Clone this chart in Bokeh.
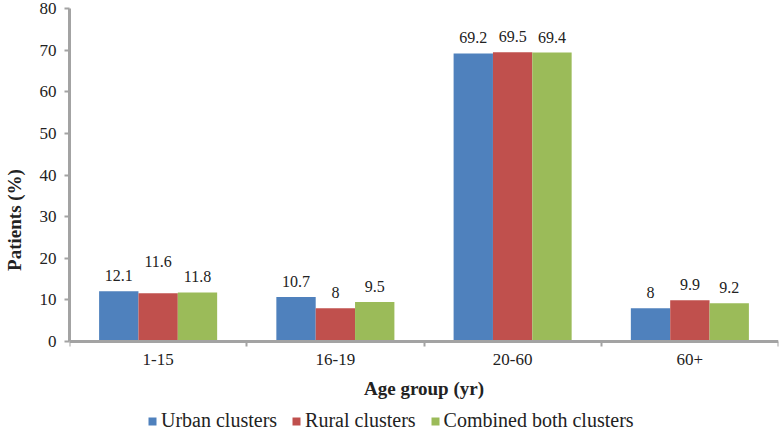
from bokeh.plotting import figure
from bokeh.models import (FactorRange, Range1d, LinearAxis, FixedTicker, ColumnDataSource,
                          LabelSet, Legend, LegendItem)
from bokeh.transform import dodge
from bokeh.embed import file_html
from bokeh.resources import INLINE

categories = ["1-15", "16-19", "20-60", "60+"]
urban = [12.1, 10.7, 69.2, 8]
rural = [11.6, 8, 69.5, 9.9]
combined = [11.8, 9.5, 69.4, 9.2]
series_names = ["Urban clusters", "Rural clusters", "Combined both clusters"]
y_ticks = [0, 10, 20, 30, 40, 50, 60, 70, 80]
y_max = 80

colors = ["#4F81BD", "#C0504D", "#9BBB59"]
offsets = [-0.222, 0.0, 0.222]
label_nudge = [[0, 0, 0, 0], [16, 0, 0, 0], [0, 0, 0, 0]]
FONT = "Liberation Serif"
AXIS_COLOR = "#a3a3a3"
TEXT_COLOR = "#222222"

# layout (pixels): plot top, zero line, figure bottom
TOP_PX, ZERO_PX, H = 8, 341, 431
px_per_unit = (ZERO_PX - TOP_PX) / y_max
y_start = -(H - ZERO_PX) / px_per_unit   # room below zero for axis texts and legend

p = figure(x_range=FactorRange(factors=categories, range_padding=0, factor_padding=0),
           y_range=Range1d(y_start, y_max), width=779, height=H,
           output_backend="svg", toolbar_location=None, x_axis_location=None,
           min_border_left=66, min_border_right=1, min_border_top=TOP_PX, min_border_bottom=0)
p.outline_line_color = None
for g in p.grid:
    g.visible = False

# y axis
ya = p.yaxis[0]
ya.bounds = (0, y_max)
ya.ticker = FixedTicker(ticks=y_ticks, minor_ticks=[])
ya.axis_line_color = AXIS_COLOR
ya.axis_line_width = 3
ya.major_tick_line_color = AXIS_COLOR
ya.major_tick_line_width = 2
ya.major_tick_out = 5
ya.major_tick_in = 0
ya.minor_tick_line_color = None
ya.major_label_text_font = FONT
ya.major_label_text_font_size = "17px"
ya.major_label_text_color = TEXT_COLOR
ya.major_label_standoff = 8
ya.axis_label = "Patients (%)"
ya.axis_label_text_font = FONT
ya.axis_label_text_font_style = "bold"
ya.axis_label_text_font_size = "19px"
ya.axis_label_text_color = TEXT_COLOR
ya.axis_label_standoff = 12

# x axis with boundary ticks, pinned at y = 0
xa = LinearAxis(
    fixed_location=0,
    ticker=FixedTicker(ticks=[i + 0.5 for i in range(len(categories))],
                       minor_ticks=[float(i) for i in range(len(categories) + 1)]),
    major_label_overrides={i + 0.5: c for i, c in enumerate(categories)})
xa.axis_line_color = AXIS_COLOR
xa.axis_line_width = 3
xa.major_tick_line_color = None
xa.major_tick_out = 0
xa.major_tick_in = 0
xa.minor_tick_line_color = AXIS_COLOR
xa.minor_tick_line_width = 2
xa.minor_tick_out = 5
xa.minor_tick_in = 0
xa.major_label_text_font = FONT
xa.major_label_text_font_size = "17px"
xa.major_label_text_color = TEXT_COLOR
xa.major_label_standoff = 7
xa.axis_label = "Age group (yr)"
xa.axis_label_text_font = FONT
xa.axis_label_text_font_style = "bold"
xa.axis_label_text_font_size = "19px"
xa.axis_label_text_color = TEXT_COLOR
xa.axis_label_standoff = 10
p.add_layout(xa, "below")

items = []
for vals, name, col, off, nudge in zip([urban, rural, combined], series_names, colors, offsets, label_nudge):
    src = ColumnDataSource(dict(cat=categories, val=vals,
                                txt=[f"{v:g}" for v in vals],
                                dy=[10 + n for n in nudge]))
    r = p.vbar(x=dodge("cat", off, range=p.x_range), top="val", width=0.222,
               source=src, fill_color=col, line_color=None)
    labels = LabelSet(x=dodge("cat", off, range=p.x_range), y="val", text="txt",
                      y_offset="dy", source=src, text_align="center",
                      text_baseline="alphabetic", text_font=FONT,
                      text_font_size="16px", text_color=TEXT_COLOR)
    p.add_layout(labels)
    items.append(LegendItem(label=name, renderers=[r]))

legend = Legend(items=items, orientation="horizontal", location=(78, -1),
                glyph_width=10, glyph_height=10, label_standoff=4, spacing=14,
                label_text_font=FONT, label_text_font_size="20px",
                label_text_color=TEXT_COLOR, border_line_color=None,
                background_fill_alpha=0, padding=0, margin=0)
p.add_layout(legend, "center")

open("out.html", "w").write(file_html(p, INLINE))
